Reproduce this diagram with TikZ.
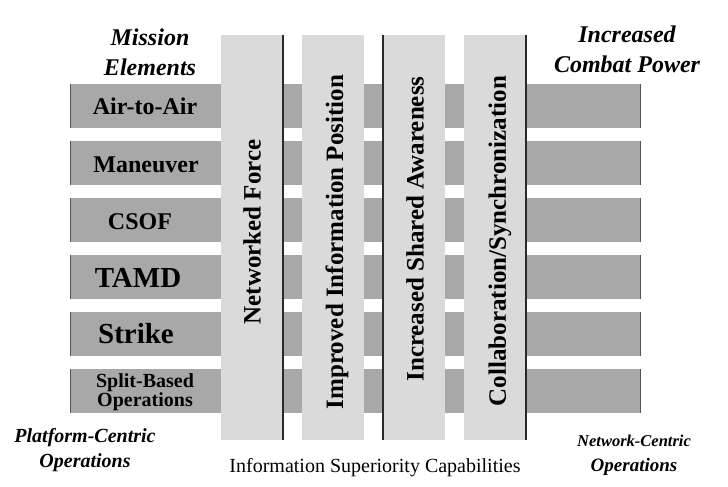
\documentclass[tikz,border=0pt]{standalone}
\usepackage{fontspec}
\setmainfont{Liberation Serif}
\usepackage{tikz}
\usetikzlibrary{positioning}
\definecolor{bargray}{HTML}{A8A8A8}
\definecolor{colgray}{HTML}{DADADA}
\definecolor{edgegray}{HTML}{2A2A2A}
\tikzset{
  bar/.style={fill=bargray,draw=none,minimum width=570pt,minimum height=44pt,inner sep=0pt,outer sep=0pt},
  column/.style={fill=colgray,draw=none,minimum width=62pt,minimum height=405pt,inner sep=0pt,outer sep=0pt},
  barlabel/.style={font=\bfseries\fontsize{24}{26}\selectfont,inner sep=0pt,align=center},
  collabel/.style={font=\bfseries\fontsize{25}{28}\selectfont,inner sep=0pt,rotate=90},
  heading/.style={font=\bfseries\itshape\fontsize{24}{30}\selectfont,inner sep=0pt,align=center},
  edge/.style={draw=edgegray,line width=1.3pt},
  baredge/.style={draw=edgegray!80,line width=1pt}
}

\begin{document}
\begin{tikzpicture}[x=1pt,y=-1pt,node distance=13pt and 19pt]
  \useasboundingbox (0,0) rectangle (728,487);
  % mission element bars
  \node[bar] (air) at (355,106) {};
  \node[bar,below=of air] (man) {};
  \node[bar,below=of man] (csof) {};
  \node[bar,below=of csof] (tamd) {};
  \node[bar,below=of tamd] (strike) {};
  \node[bar,below=of strike] (split) {};
  \foreach \b in {air,man,csof,tamd,strike,split}{
    \draw[baredge] (\b.north west) -- (\b.south west);
    \draw[baredge] (\b.north east) -- (\b.south east);
  }
  % capability columns
  \node[column] (netforce) at (252,237.5) {};
  \node[column,right=of netforce] (infopos) {};
  \node[column,right=of infopos] (shared) {};
  \node[column,right=of shared] (collab) {};
  \draw[edge] (netforce.north east) -- (netforce.south east);
  \draw[edge] (shared.north west) -- (shared.south west);
  \draw[edge] (collab.north east) -- (collab.south east);
  \node[collabel] (netforcelbl) at (252,232) {Networked Force};
  \node[collabel] (infoposlbl) at (337,242) {Improved Information Position};
  \node[collabel] (sharedlbl) at (415,229) {Increased Shared Awareness};
  \node[collabel] (collablbl) at (500,241) {Collaboration/Synchronization};
  % bar labels
  \node[barlabel] (airlbl) at (145,106) {Air-to-Air};
  \node[barlabel] (manlbl) at (146,165) {Maneuver};
  \node[barlabel] (csoflbl) at (140,222) {CSOF};
  \node[barlabel,font=\bfseries\fontsize{29}{30}\selectfont] (tamdlbl) at (138,278) {TAMD};
  \node[barlabel,font=\bfseries\fontsize{29}{30}\selectfont] (strikelbl) at (136,334) {Strike};
  \node[barlabel,font=\bfseries\fontsize{20}{17}\selectfont] (splitlbl) at (145,392) {Split-Based\\Operations};
  % headings
  \node[heading] (mission) at (150,52) {Mission\\Elements};
  \node[heading] (combat) at (627,49) {Increased\\Combat Power};
  \node[heading,font=\bfseries\itshape\fontsize{20}{25}\selectfont] (platform) at (85,450) {Platform-Centric\\Operations};
  \node[heading,font=\bfseries\itshape\fontsize{19}{25}\selectfont] (network) at (634,455) {{\fontsize{16.5}{25}\selectfont Network-Centric}\\Operations};
  \node[font=\fontsize{20}{24}\selectfont,inner sep=0pt] (infosup) at (375,468) {Information Superiority Capabilities};
\end{tikzpicture}
\end{document}
